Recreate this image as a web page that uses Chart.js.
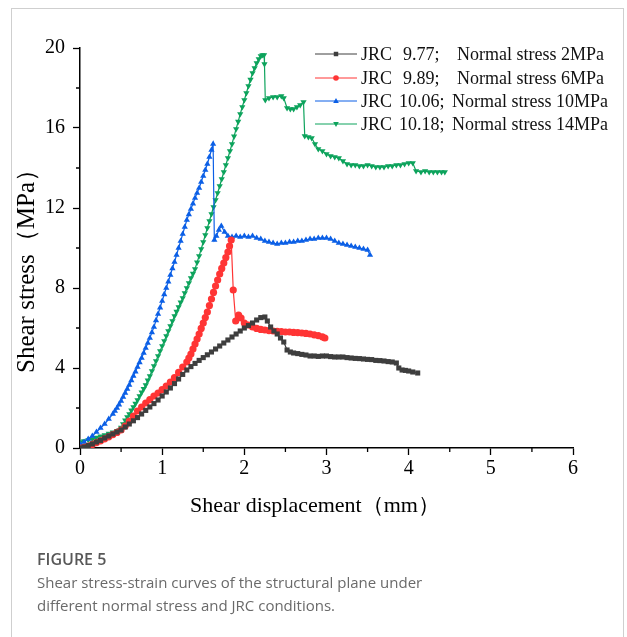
<!DOCTYPE html>
<html>
<head>
<meta charset="utf-8">
<script src="https://cdn.jsdelivr.net/npm/chart.js@4/dist/chart.umd.min.js"></script>
<style>
  body { margin: 0; background: #fff; }
  #frame { position: absolute; left: 11px; top: 8px; width: 611px; height: 700px;
           border: 1px solid #cfcfcf; border-bottom: none; }
  #wrap { position: absolute; left: 0; top: 0; }
  .cap { position: absolute; left: 37px; font-family: "Open Sans", sans-serif; color: #6a6a6a; font-size: 15px; }
  #figno { top: 548px; font-size: 16px; font-weight: 600; color: #585858; }
  #figtxt { top: 571px; line-height: 23px; width: 560px; }
</style>
</head>
<body>
<div id="frame"></div>
<div id="wrap"><canvas id="myChart" width="627" height="637"></canvas></div>
<div class="cap" id="figno">FIGURE 5</div>
<div class="cap" id="figtxt">Shear stress-strain curves of the structural plane under<br>different normal stress and JRC conditions.</div>

<script>
// series labels (legend parts)
const jrcValues = ["9.77;", "9.89;", "10.06;", "10.18;"];
const normalStress = ["Normal stress 2MPa", "Normal stress 6MPa", "Normal stress 10MPa", "Normal stress 14MPa"];

const xTicks = [0, 1, 2, 3, 4, 5, 6];
const yTicks = [0, 4, 8, 12, 16, 20];

// JRC 9.77, 2MPa
const dispA = [0,0.05,0.1,0.15,0.2,0.25,0.3,0.35,0.4,0.45,0.5,0.55,0.6,0.65,0.7,0.75,0.8,0.85,0.9,0.95,
  1.0,1.05,1.1,1.15,1.2,1.25,1.3,1.35,1.4,1.45,1.5,1.55,1.6,1.65,1.7,1.75,1.8,1.85,1.9,1.95,
  2.0,2.05,2.1,2.15,2.2,2.25,2.28,2.32,2.36,2.4,2.44,2.48,2.52,2.56,2.6,2.65,2.7,2.75,2.8,2.85,
  2.9,2.95,3.0,3.05,3.1,3.15,3.2,3.25,3.3,3.35,3.4,3.45,3.5,3.55,3.6,3.65,3.7,3.75,3.8,3.85,
  3.88,3.92,3.96,4.0,4.05,4.11];
const stressA = [0,0.05,0.12,0.2,0.3,0.38,0.5,0.6,0.7,0.8,0.9,1.05,1.2,1.36,1.52,1.7,1.88,2.05,2.22,2.4,
  2.6,2.8,3.0,3.22,3.45,3.68,3.9,4.07,4.23,4.38,4.52,4.66,4.8,4.95,5.1,5.25,5.4,5.55,5.7,5.85,
  6.0,6.12,6.25,6.4,6.52,6.55,6.35,6.05,5.85,5.7,5.5,5.3,4.9,4.8,4.75,4.72,4.68,4.65,4.6,4.6,
  4.58,4.6,4.6,4.57,4.55,4.55,4.55,4.52,4.5,4.48,4.47,4.45,4.43,4.42,4.38,4.37,4.35,4.32,4.3,4.25,
  4.0,3.9,3.88,3.85,3.8,3.75];

// JRC 9.89, 6MPa
const dispB = [0,0.05,0.1,0.15,0.2,0.25,0.3,0.35,0.4,0.45,0.5,0.55,0.6,0.65,0.7,0.75,0.8,0.85,0.9,0.95,
  1.0,1.05,1.1,1.15,1.2,1.25,1.3,1.325,1.35,1.375,1.4,1.425,1.45,1.475,1.5,1.525,1.55,1.575,1.6,1.625,
  1.65,1.675,1.7,1.725,1.75,1.775,1.8,1.82,1.84,1.865,1.895,1.93,1.96,2.0,2.05,2.1,2.15,2.2,2.25,2.3,
  2.35,2.4,2.45,2.5,2.55,2.6,2.65,2.7,2.75,2.8,2.85,2.9,2.95,2.98];
const stressB = [0,0.03,0.1,0.18,0.27,0.36,0.46,0.56,0.67,0.78,0.9,1.1,1.35,1.6,1.85,2.05,2.25,2.42,2.6,2.75,
  2.92,3.1,3.3,3.52,3.78,4.05,4.3,4.5,4.7,4.95,5.2,5.45,5.7,5.98,6.25,6.52,6.8,7.12,7.45,7.78,
  8.1,8.4,8.7,8.98,9.25,9.52,9.8,10.1,10.4,7.9,6.35,6.65,6.5,6.25,6.15,6.05,5.98,5.93,5.9,5.87,
  5.85,5.83,5.82,5.8,5.8,5.78,5.77,5.75,5.73,5.7,5.66,5.62,5.56,5.5];

// JRC 10.06, 10MPa
const dispC = [0,0.05,0.1,0.15,0.2,0.25,0.3,0.35,0.4,0.425,0.45,0.475,0.5,0.525,0.55,0.575,0.6,0.625,0.65,0.675,
  0.7,0.725,0.75,0.775,0.8,0.825,0.85,0.875,0.9,0.925,0.95,0.975,1.0,1.025,1.05,1.075,1.1,1.125,1.15,1.175,
  1.2,1.225,1.25,1.275,1.3,1.325,1.35,1.375,1.4,1.425,1.45,1.475,1.5,1.525,1.55,1.575,1.6,1.62,1.635,1.66,
  1.69,1.72,1.76,1.8,1.85,1.9,1.95,2.0,2.05,2.1,2.15,2.2,2.25,2.3,2.35,2.4,2.45,2.5,2.55,2.6,
  2.65,2.7,2.75,2.8,2.85,2.9,2.95,3.0,3.05,3.1,3.15,3.2,3.25,3.3,3.35,3.4,3.45,3.5,3.53];
const stressC = [0.2,0.3,0.45,0.6,0.8,1.0,1.2,1.45,1.7,1.85,2.0,2.17,2.35,2.55,2.75,2.95,3.15,3.38,3.6,3.82,
  4.05,4.28,4.5,4.75,5.0,5.25,5.5,5.78,6.05,6.38,6.7,7.02,7.35,7.68,8.0,8.32,8.65,8.98,9.3,9.65,
  10.0,10.35,10.7,11.05,11.4,11.68,11.95,12.22,12.5,12.75,13.0,13.3,13.6,13.9,14.2,14.55,14.9,15.2,10.4,10.6,
  10.9,11.1,10.8,10.6,10.55,10.6,10.55,10.6,10.55,10.6,10.5,10.45,10.35,10.3,10.25,10.2,10.25,10.25,10.3,10.3,
  10.35,10.35,10.4,10.45,10.45,10.5,10.5,10.5,10.45,10.35,10.25,10.2,10.15,10.1,10.05,10.0,9.95,9.9,9.65];

// JRC 10.18, 14MPa
const dispD = [0,0.05,0.1,0.15,0.2,0.25,0.3,0.35,0.4,0.45,0.48,0.5,0.525,0.55,0.575,0.6,0.625,0.65,0.675,0.7,
  0.725,0.75,0.775,0.8,0.825,0.85,0.875,0.9,0.925,0.95,0.975,1.0,1.025,1.05,1.075,1.1,1.125,1.15,1.175,1.2,
  1.225,1.25,1.275,1.3,1.325,1.35,1.375,1.4,1.425,1.45,1.475,1.5,1.525,1.55,1.575,1.6,1.625,1.65,1.675,1.7,
  1.725,1.75,1.775,1.8,1.825,1.85,1.875,1.9,1.925,1.95,1.975,2.0,2.025,2.05,2.075,2.1,2.125,2.15,2.175,2.2,
  2.22,2.24,2.245,2.255,2.3,2.35,2.4,2.45,2.48,2.52,2.56,2.6,2.64,2.68,2.72,2.735,2.78,2.82,2.86,2.9,
  2.95,3.0,3.05,3.1,3.15,3.2,3.25,3.3,3.35,3.4,3.45,3.5,3.55,3.6,3.65,3.7,3.75,3.8,3.85,3.9,
  3.95,4.0,4.05,4.09,4.15,4.2,4.25,4.3,4.35,4.4,4.44];
const stressD = [0.3,0.35,0.4,0.45,0.52,0.58,0.65,0.72,0.78,0.85,0.9,1.02,1.2,1.38,1.55,1.7,1.88,2.05,2.22,2.4,
  2.6,2.78,2.96,3.15,3.38,3.6,3.85,4.1,4.35,4.6,4.85,5.1,5.35,5.6,5.85,6.1,6.35,6.6,6.82,7.05,
  7.28,7.5,7.75,8.0,8.25,8.5,8.72,8.95,9.28,9.6,9.95,10.3,10.65,11.0,11.35,11.7,12.05,12.4,12.75,13.1,
  13.45,13.8,14.15,14.5,14.85,15.2,15.58,15.95,16.32,16.7,17.05,17.4,17.75,18.1,18.42,18.75,19.0,19.25,19.45,19.6,
  19.65,19.65,19.2,17.4,17.5,17.55,17.55,17.6,17.5,17.0,16.95,16.95,17.05,17.15,17.3,15.6,15.55,15.5,15.2,14.95,
  14.85,14.7,14.6,14.55,14.5,14.35,14.2,14.15,14.15,14.1,14.1,14.15,14.1,14.05,14.05,14.05,14.1,14.1,14.15,14.15,
  14.2,14.25,14.25,13.85,13.8,13.85,13.8,13.8,13.8,13.8,13.8];

const colors = ['#3e3e3e', '#ff3535', '#0b5fe6', '#0da35c'];
const styles = ['rect', 'circle', 'triangle', 'triangle'];
const rotations = [0, 0, 0, 180];

function toPoints(xs, ys) {
  return xs.map((x, i) => ({ x: x, y: ys[i] }));
}

const serif = '"Liberation Serif", "Times New Roman", serif';

// draw one marker shape (legend only)
function drawMarker(ctx, style, rot, x, y, r, color) {
  ctx.save();
  ctx.fillStyle = color;
  ctx.translate(x, y);
  ctx.rotate(rot * Math.PI / 180);
  ctx.beginPath();
  if (style === 'rect') {
    ctx.rect(-r * 0.8, -r * 0.8, r * 1.6, r * 1.6);
  } else if (style === 'circle') {
    ctx.arc(0, 0, r, 0, Math.PI * 2);
  } else {
    ctx.moveTo(0, -r * 1.1);
    ctx.lineTo(r, r * 0.7);
    ctx.lineTo(-r, r * 0.7);
    ctx.closePath();
  }
  ctx.fill();
  ctx.restore();
}

const extras = {
  id: 'extras',
  afterDraw(chart) {
    const ctx = chart.ctx;
    const xs = chart.scales.x, ys = chart.scales.y;
    ctx.save();
    // minor ticks
    ctx.strokeStyle = '#000';
    ctx.lineWidth = 1.3;
    ctx.beginPath();
    for (let v = 0.5; v < 6; v += 1) {
      const px = xs.getPixelForValue(v);
      ctx.moveTo(px, ys.bottom);
      ctx.lineTo(px, ys.bottom + 4);
    }
    for (let v = 2; v < 20; v += 4) {
      const py = ys.getPixelForValue(v);
      ctx.moveTo(xs.left, py);
      ctx.lineTo(xs.left - 4, py);
    }
    ctx.stroke();

    // axis titles
    ctx.fillStyle = '#000';
    ctx.font = '22px ' + serif;
    ctx.textAlign = 'center';
    ctx.textBaseline = 'middle';
    ctx.fillText('Shear displacement（mm）', 315, 506);
    ctx.save();
    ctx.font = '25px ' + serif;
    ctx.translate(27, 265);
    ctx.rotate(-Math.PI / 2);
    ctx.fillText('Shear stress（MPa）', 0, 0);
    ctx.restore();

    // legend
    ctx.font = '18px ' + serif;
    ctx.textAlign = 'left';
    const rowY = [54, 78, 101, 124];
    for (let i = 0; i < 4; i++) {
      const y = rowY[i];
      ctx.strokeStyle = colors[i];
      ctx.lineWidth = 1;
      ctx.beginPath();
      ctx.moveTo(315, y);
      ctx.lineTo(357, y);
      ctx.stroke();
      drawMarker(ctx, styles[i], rotations[i], 336, y, 2.8, colors[i]);
      ctx.fillStyle = '#111';
      ctx.fillText('JRC', 361, y + 1);
      const long = jrcValues[i].length > 5;
      ctx.fillText(jrcValues[i], long ? 399 : 403, y + 1);
      ctx.fillText(normalStress[i], long ? 452 : 457, y + 1);
    }
    ctx.restore();
  }
};

const datasets = [
  toPoints(dispA, stressA), toPoints(dispB, stressB),
  toPoints(dispC, stressC), toPoints(dispD, stressD)
].map((pts, i) => ({
  label: 'JRC ' + jrcValues[i] + ' ' + normalStress[i],
  data: pts,
  showLine: true,
  borderColor: colors[i],
  backgroundColor: colors[i],
  borderWidth: 1.2,
  pointStyle: styles[i],
  pointRotation: rotations[i],
  pointRadius: 3.6,
  pointBorderWidth: 0,
  tension: 0
}));

new Chart(document.getElementById('myChart'), {
  type: 'scatter',
  data: { datasets: datasets },
  options: {
    responsive: false,
    animation: false,
    layout: { padding: { left: 0, top: 48, right: 54, bottom: 0 } },
    plugins: { legend: { display: false }, tooltip: { enabled: false } },
    scales: {
      x: {
        type: 'linear', min: 0, max: 6,
        afterBuildTicks: (s) => { s.ticks = xTicks.map(v => ({ value: v })); },
        afterFit: (s) => { s.height = 637 - 448; },
        border: { color: '#000', width: 1.5 },
        grid: { drawOnChartArea: false, drawTicks: true, tickLength: 7, color: '#000', tickWidth: 1.3 },
        ticks: { color: '#000', padding: 2, font: { family: serif, size: 20 } }
      },
      y: {
        type: 'linear', min: 0, max: 20,
        afterBuildTicks: (s) => { s.ticks = yTicks.map(v => ({ value: v })); },
        afterFit: (s) => { s.width = 80; },
        border: { color: '#000', width: 1.5 },
        grid: { drawOnChartArea: false, drawTicks: true, tickLength: 7, color: '#000', tickWidth: 1.3 },
        ticks: { color: '#000', padding: 8, font: { family: serif, size: 20 } }
      }
    }
  },
  plugins: [extras]
});
</script>
</body>
</html>
